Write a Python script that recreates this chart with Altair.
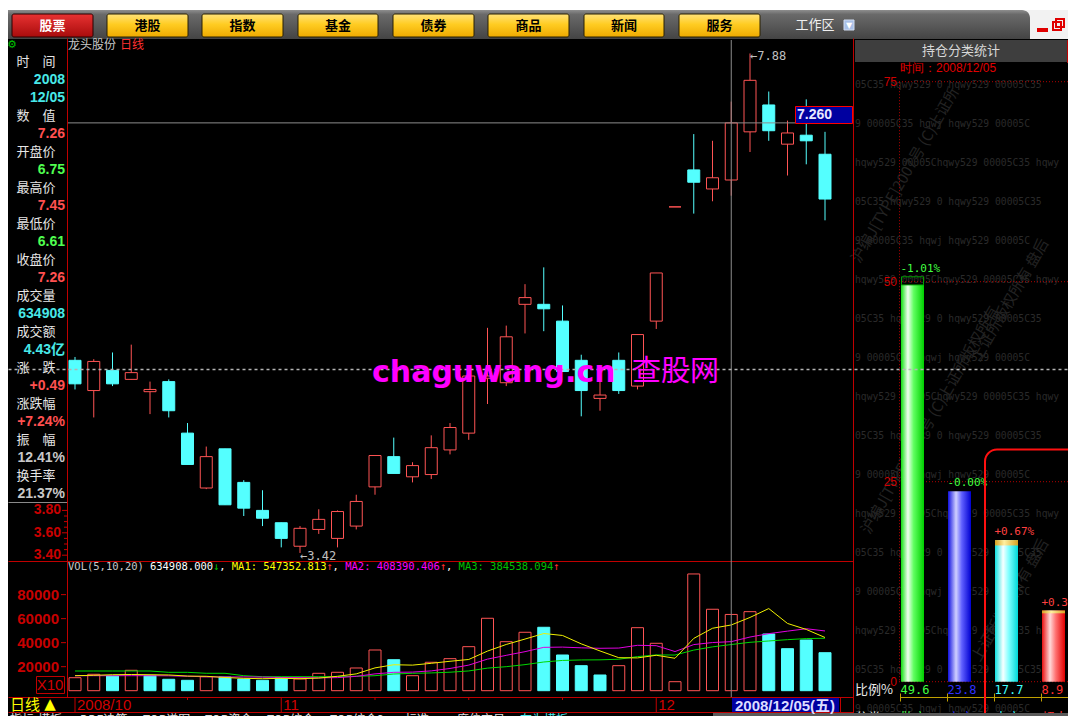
import altair as alt
import pandas as pd

# ================= values =================
stock_name = "龙头股份"
period_name = "日线"

bar_index = list(range(1, 42))
opens = [5.14, 4.87, 5.05, 4.97, 4.86, 4.95, 4.49, 4.00, 4.35, 4.05,
         3.80, 3.69, 3.48, 3.63, 3.55, 3.66, 4.01, 4.28, 4.10, 4.12,
         4.34, 4.49, 4.98, 4.94, 5.64, 5.64, 5.49, 5.14, 4.80, 5.14,
         4.91, 5.49, 6.51, 6.84, 6.67, 6.75, 7.18, 7.42, 7.07, 7.15, 6.98]
highs = [5.17, 5.15, 5.21, 5.28, 4.95, 4.97, 4.58, 4.37, 4.35, 4.07,
         3.98, 3.69, 3.66, 3.81, 3.80, 3.94, 4.29, 4.45, 4.23, 4.47,
         4.58, 5.00, 5.43, 5.45, 5.82, 5.97, 5.63, 5.19, 4.97, 5.21,
         5.37, 5.92, 6.51, 7.16, 7.10, 7.45, 7.88, 7.54, 7.28, 7.47, 7.18]
lows = [4.88, 4.63, 4.91, 4.97, 4.66, 4.63, 4.21, 3.99, 3.85, 3.75,
        3.66, 3.47, 3.42, 3.59, 3.47, 3.63, 3.94, 4.13, 4.05, 4.08,
        4.30, 4.43, 4.75, 4.91, 5.38, 5.40, 5.04, 4.64, 4.69, 4.84,
        4.88, 5.42, 6.51, 6.45, 6.56, 6.61, 7.00, 7.10, 6.79, 6.89, 6.39]
closes = [4.93, 5.13, 4.93, 5.03, 4.88, 4.69, 4.21, 4.28, 3.85, 3.82,
          3.73, 3.55, 3.64, 3.72, 3.79, 3.88, 4.29, 4.13, 4.20, 4.36,
          4.54, 5.00, 5.00, 5.35, 5.70, 5.60, 5.04, 4.87, 4.83, 4.87,
          5.37, 5.92, 6.51, 6.73, 6.77, 7.26, 7.64, 7.19, 7.17, 7.10, 6.58]

# volume in axis units (x10)
volumes = [10830, 13660, 12240, 16990, 12500, 9500, 8660, 11660, 11410, 9750,
           8660, 10830, 9750, 14490, 15330, 18910, 33900, 25820, 12500, 23660,
           26660, 36650, 60310, 40820, 48650, 52810, 29740, 20830, 13080, 20830,
           52480, 39480, 7500, 97210, 67810, 63491, 65810, 47230, 34990, 42230, 31650]
vol_rising = [1, 1, 0, 1, 0, 0, 0, 1, 0, 0,
              0, 0, 1, 1, 1, 1, 1, 0, 1, 1,
              1, 1, 1, 1, 1, 0, 0, 0, 0, 1,
              1, 1, 1, 1, 1, 1, 1, 0, 0, 0, 0]
ma5 = [12500, 12800, 13300, 13500, 13300, 13100, 12200, 12000, 11000, 10300,
       10000, 10300, 10000, 10500, 12000, 14000, 19000, 21600, 21300, 22800,
       24500, 26000, 33000, 38500, 43000, 47600, 46000, 39000, 33100, 27500,
       27300, 29500, 27000, 43550, 52000, 54735, 61000, 68400, 56000, 51000, 44300]
ma10 = [12500, 12500, 12500, 12500, 12500, 12400, 12000, 11600, 11400, 11500,
        11300, 11000, 10900, 10750, 10900, 11950, 14000, 15300, 15500, 16500,
        18500, 21300, 26300, 29450, 32500, 36100, 36300, 35700, 35320, 35500,
        37800, 37500, 32600, 38400, 40100, 40839, 44700, 47500, 49600, 51600, 49740]
ma20 = [16400, 16400, 16400, 16400, 16400, 15300, 15300, 14500, 14500, 12500,
        11660, 11660, 11660, 11660, 11660, 12000, 12500, 13900, 14500, 14800,
        15400, 16450, 18800, 20000, 21700, 23900, 25200, 25600, 25700, 26200,
        28400, 29800, 29700, 33800, 36500, 38454, 40300, 41400, 42500, 43400, 43680]

price_ticks = [3.40, 3.60, 3.80]
price_minor_ticks = [3.45, 3.50, 3.55, 3.65, 3.70, 3.75]
volume_ticks = [20000, 40000, 60000, 80000]
month_start_bars = [1, 12, 32]
month_labels = ["2008/10", "11", "12"]
week_tick_bars = [7, 17, 22, 27, 37]
cursor_bar = 36
cursor_price = 7.26
cursor_date = "2008/12/05(五)"
high_mark = [37, 7.88]
low_mark = [13, 3.42]

info_labels = ["时　间", "数　值", "开盘价", "最高价", "最低价", "收盘价",
               "成交量", "成交额", "涨　跌", "涨跌幅", "振　幅", "换手率"]
info_values = ["2008", "12/05", "7.26", "6.75", "7.45", "6.61", "7.26",
               "634908", "4.43亿", "+0.49", "+7.24%", "12.41%", "21.37%"]

vol_header = ["VOL(5,10,20) ", "634908.000", "↓", ", ", "MA1: ", "547352.813", "↑", ", ",
              "MA2: ", "408390.406", "↑", ", ", "MA3: ", "384538.094", "↑"]

holder_classes = ["散户", "中户", "大户", "超大"]
holder_share = [49.6, 23.8, 17.7, 8.9]
holder_change = [-1.01, -0.00, 0.67, 0.35]
holder_change_text = ["-1.01%", "-0.00%", "+0.67%", "+0.35%"]
holder_ticks = [0, 25, 50, 75]
holder_date = "时间：2008/12/05"

menu_items = ["股票", "港股", "指数", "基金", "债券", "商品", "新闻", "服务"]
tab_items = ["指标", "模板", "DDE决策", "TOP谱图", "TOP资金", "TOP综合", "TOP综合2", "标准", "度位交易", "存为模板"]

# ================= layout / styling =================
OFF = 8  # page margin
CJK = "Noto Sans CJK SC"
SANS = "Liberation Sans"
MONO = "DejaVu Sans Mono"
RED = "#ff5454"
CYAN = "#54ffff"
FRAME = "#c00000"
AXIS_RED = "#c80000"


def P(v):
    return v - OFF


def _shift(df, cols, extra=0.0):
    for c in cols:
        df[c] = df[c] - OFF + extra
    return df


def rect_layer(rows, stroke_width=1.0, radius=0, extra=0.0, fill_opacity=None):
    df = _shift(pd.DataFrame(rows, columns=["x", "x2", "y", "y2", "f", "s"]), ["x", "x2", "y", "y2"], extra)
    mk = {"strokeWidth": stroke_width}
    if radius:
        mk["cornerRadius"] = radius
    if fill_opacity is not None:
        mk["fillOpacity"] = fill_opacity
    return alt.Chart(df).mark_rect(**mk).encode(
        x=alt.X("x:Q", scale=None, axis=None), x2="x2:Q",
        y=alt.Y("y:Q", scale=None, axis=None), y2="y2:Q",
        fill=alt.Fill("f:N", scale=None, legend=None),
        stroke=alt.Stroke("s:N", scale=None, legend=None))


def gradient(stops, horizontal=False):
    return alt.LinearGradient(
        gradient="linear",
        stops=[alt.GradientStop(offset=o, color=c) for o, c in stops],
        x1=0, y1=0, x2=1 if horizontal else 0, y2=0 if horizontal else 1)


def grad_rect_layer(boxes, stops, horizontal=False, stroke=None, **extra_mk):
    df = _shift(pd.DataFrame(boxes, columns=["x", "x2", "y", "y2"]), ["x", "x2", "y", "y2"])
    mk = dict(extra_mk)
    mk["fill"] = gradient(stops, horizontal)
    if stroke:
        mk["stroke"] = stroke
        mk["strokeWidth"] = 1
    return alt.Chart(df).mark_rect(**mk).encode(
        x=alt.X("x:Q", scale=None, axis=None), x2="x2:Q",
        y=alt.Y("y:Q", scale=None, axis=None), y2="y2:Q")


def text_layer(rows, size, font=CJK, align="left", weight="normal", baseline="middle", angle=None):
    df = _shift(pd.DataFrame(rows, columns=["x", "y", "t", "c"]), ["x", "y"])
    mk = dict(fontSize=size, font=font, align=align, baseline=baseline, fontWeight=weight)
    if angle is not None:
        mk["angle"] = angle
    return alt.Chart(df).mark_text(**mk).encode(
        x=alt.X("x:Q", scale=None, axis=None),
        y=alt.Y("y:Q", scale=None, axis=None),
        text=alt.Text("t:N"),
        color=alt.Color("c:N", scale=None, legend=None))


def rule_layer(rows, width=1.0, dash=None):
    df = _shift(pd.DataFrame(rows, columns=["x", "y", "x2", "y2", "c"]), ["x", "y", "x2", "y2"], 0.5)
    mk = dict(strokeWidth=width)
    if dash:
        mk["strokeDash"] = dash
    return alt.Chart(df).mark_rule(**mk).encode(
        x=alt.X("x:Q", scale=None, axis=None), x2="x2:Q",
        y=alt.Y("y:Q", scale=None, axis=None), y2="y2:Q",
        color=alt.Color("c:N", scale=None, legend=None))


def sc(domain, rng):
    return alt.Scale(domain=domain, range=[P(rng[0]), P(rng[1])], nice=False, zero=False, padding=0)


X_BARS = sc([1, 41], [75, 825])
Y_PRICE = sc([3.375, 8.0], [558, 40])
Y_VOL = sc([0, 108000], [690.7, 561])
X_HOLD = sc([0, 3], [912.5, 1053.5])
Y_HOLD = sc([0, 75], [681.7, 81.7])

layers = []
add = layers.append

# ---------- window chrome / menu bar ----------
add(rect_layer([(0, 1076, 0, 10, "#ffffff", "transparent"),
                (1000, 1076, 10, 39, "#f2f2f2", "transparent")], stroke_width=0))
add(grad_rect_layer([(0, 1030, 10, 39)], [(0, "#8e8e8e"), (0.15, "#6a6a6a"), (1, "#444444")],
                    cornerRadiusTopRight=8))
add(rect_layer([(1037, 1048, 28, 32, "#e00000", "transparent")], stroke_width=0))
add(rect_layer([(1053, 1061, 22, 30, "transparent", "#e00000"),
                (1056, 1064, 19, 27, "transparent", "#e00000")], stroke_width=2))

btn_x = [(12, 93), (107, 188), (202, 283), (298, 378), (393, 474), (488, 569), (584, 664), (679, 760)]
add(grad_rect_layer([(btn_x[0][0], btn_x[0][1], 14, 37)],
                    [(0, "#e83232"), (1, "#a80c0c")], stroke="#2a0000", cornerRadius=2))
add(grad_rect_layer([(a, b, 14, 37) for a, b in btn_x[1:]],
                    [(0, "#ffe27a"), (0.45, "#ffcc22"), (1, "#eeaa00")], stroke="#2a2000", cornerRadius=2))
add(text_layer([((btn_x[0][0] + btn_x[0][1]) / 2, 25.5, menu_items[0], "#ffffff")] +
               [((a + b) / 2, 25.5, t, "#000000") for (a, b), t in zip(btn_x[1:], menu_items[1:])],
               13, CJK, "center", "bold"))
add(text_layer([(815, 24.5, "工作区", "#f0f0f0")], 13, CJK, "center"))
add(rect_layer([(844, 854, 20, 30, "#a8c0e8", "#d0dcf0")], stroke_width=1))
add(text_layer([(849, 25.5, "▼", "#ffffff")], 8, "DejaVu Sans", "center"))

# ---------- right panel: watermark texture ----------
wm_patterns = ["05C35  hqwy529 0      hqwy529 00005C35",
               "9 00005C35  hqwj      hqwy529 00005C",
               "hqwy529 00005Chqwy529 00005C35  hqwy"]
add(text_layer([(855, 85 + 39 * k, wm_patterns[k % 3], "#2a2a2a") for k in range(17)], 9.7, MONO))
add(text_layer([(905, 175, "沪编J[TYPE]2007号 (C)上证所", "#232323"),
                (930, 420, "沪编J[TYPE]2007号 (C)上证所版权所有", "#232323"),
                (1010, 300, "上证所版权所有 盘后", "#232323"),
                (1010, 600, "上证所版权所有 盘后", "#232323")], 15, CJK, "center", angle=300))

# ---------- right panel: header ----------
add(rect_layer([(855, 1067, 40, 62, "#3e3e3e", "transparent")], stroke_width=0))
add(rect_layer([(1067, 1080, 40, 62, "#e8e8e8", "#c00000")], stroke_width=1, extra=0.5))
add(text_layer([(961, 51, "持仓分类统计", "#d8d8d8")], 13, CJK, "center"))
add(text_layer([(1069, 51, "设", "#000000")], 12, CJK, "left"))
add(text_layer([(900, 68, holder_date, "#e00000")], 12, SANS))

# ---------- right panel: holder bars ----------
hdf = pd.DataFrame({"k": [0, 1, 2, 3], "cls": holder_classes, "v": holder_share,
                    "chg": holder_change, "lab": holder_change_text})
hdf["z"] = 0.0
hdf["top"] = [v + max(0.0, -c) for v, c in zip(holder_share, holder_change)]
hdf["lo"] = [v - max(0.0, c) for v, c in zip(holder_share, holder_change)]
hdf["vtxt"] = [f"{v:.1f}" for v in holder_share]
hdf["lc"] = ["#40ff40" if t.startswith("-") else "#ff4040" for t in holder_change_text]
hdf["cc"] = ["#40ff40", "#3030ff", "#40ffff", "#ff3030"]

hx = alt.X("k:Q", scale=X_HOLD, axis=None)
tick_df = pd.DataFrame({"v": holder_ticks, "t": [str(v) for v in holder_ticks]})
add(alt.Chart(tick_df).mark_rule(color="#b00000", strokeDash=[1, 2], strokeWidth=1).encode(
    x=alt.value(P(899)), x2=alt.value(P(1076)), y=alt.Y("v:Q", scale=Y_HOLD, axis=None)))
add(rule_layer([(899, 81.7, 899, 681.7, "#b00000")], dash=[1, 2]))
add(alt.Chart(tick_df).mark_text(font=SANS, fontSize=12, align="right", baseline="middle", color="#d00000").encode(
    x=alt.value(P(897)), y=alt.Y("v:Q", scale=Y_HOLD, axis=None), text="t:N"))

bar_stops = [
    [(0, "#10e010"), (0.3, "#f0fff0"), (0.55, "#60ff60"), (1, "#00d000")],
    [(0, "#1010e0"), (0.35, "#d0d0ff"), (0.6, "#6060ff"), (1, "#0000d0")],
    [(0, "#10e0e0"), (0.35, "#f8ffff"), (0.6, "#80ffff"), (1, "#00d8d8")],
    [(0, "#e81010"), (0.35, "#ffd8d8"), (0.6, "#ff7070"), (1, "#e00000")],
]
for k, stops in enumerate(bar_stops):
    add(alt.Chart(hdf.iloc[[k]]).mark_bar(size=23, fill=gradient(stops, True), orient="vertical").encode(
        x=hx, y=alt.Y("v:Q", scale=Y_HOLD, axis=None), y2="z:Q"))
add(alt.Chart(hdf[hdf.chg > 0]).mark_bar(size=23, orient="vertical",
                                         fill=gradient([(0, "#d8a020"), (0.4, "#fff0a0"), (1, "#d8a020")], True)).encode(
    x=hx, y=alt.Y("lo:Q", scale=Y_HOLD, axis=None), y2="v:Q"))
add(alt.Chart(hdf[hdf.chg < -0.005]).mark_bar(size=22, orient="vertical", fillOpacity=0, stroke="#00a000",
                                              strokeWidth=1).encode(
    x=hx, y=alt.Y("v:Q", scale=Y_HOLD, axis=None), y2="top:Q"))
add(alt.Chart(hdf).mark_text(font=MONO, fontSize=11, align="left", baseline="middle", dx=-12, dy=-8).encode(
    x=hx, y=alt.Y("top:Q", scale=Y_HOLD, axis=None), text="lab:N",
    color=alt.Color("lc:N", scale=None, legend=None)))
add(alt.Chart(hdf).mark_text(font=MONO, fontSize=12, align="left", baseline="middle", dx=-12).encode(
    x=hx, y=alt.value(P(690)), text="vtxt:N", color=alt.Color("cc:N", scale=None, legend=None)))
add(alt.Chart(hdf).mark_text(font=CJK, fontSize=13, align="left", baseline="middle", dx=-12).encode(
    x=hx, y=alt.value(P(718)), text="cls:N", color=alt.Color("cc:N", scale=None, legend=None)))
add(text_layer([(855, 690, "比例%", "#e8e8e8"), (855, 718, "分类", "#e8e8e8")], 13, CJK))
add(rule_layer([(900, 697, 1076, 697, "#c0a000")] +
               [(x, 693, x, 701, "#c0a000") for x in (900, 947, 994, 1041)]))
add(rect_layer([(985, 1100, 449.5, 760, "transparent", "#ff1010")], stroke_width=2, radius=12))

# ---------- main chart: title & price axis ----------
add(text_layer([(68, 45, stock_name, "#c8c8c8")], 12, CJK))
add(text_layer([(120, 45, period_name, "#ff3030")], 12, CJK))
add(text_layer([(12, 45, "⚙", "#00c000")], 11, "DejaVu Sans", "center"))

pt = pd.DataFrame({"p": price_ticks, "t": [f"{v:.2f}" for v in price_ticks]})
pm = pd.DataFrame({"p": price_minor_ticks})
add(alt.Chart(pt).mark_text(font=SANS, fontSize=14, fontWeight="bold", align="right", baseline="middle",
                            color=AXIS_RED).encode(x=alt.value(P(61)), y=alt.Y("p:Q", scale=Y_PRICE, axis=None),
                                                   text="t:N"))
add(alt.Chart(pt).mark_rule(color=AXIS_RED).encode(
    x=alt.value(P(62)), x2=alt.value(P(67)), y=alt.Y("p:Q", scale=Y_PRICE, axis=None)))
add(alt.Chart(pm).mark_rule(color=AXIS_RED).encode(
    x=alt.value(P(64)), x2=alt.value(P(67)), y=alt.Y("p:Q", scale=Y_PRICE, axis=None)))

# ---------- candles ----------
kdf = pd.DataFrame({"i": bar_index, "o": opens, "h": highs, "l": lows, "c": closes})
kdf["dir"] = ["up" if c >= o else "down" for o, c in zip(opens, closes)]
dir_stroke = alt.Scale(domain=["up", "down"], range=[RED, CYAN])
dir_fill = alt.Scale(domain=["up", "down"], range=["#000000", CYAN])
xb = alt.X("i:Q", scale=X_BARS, axis=None)
add(alt.Chart(kdf).mark_rule(strokeWidth=1).encode(
    x=xb, y=alt.Y("l:Q", scale=Y_PRICE, axis=None), y2="h:Q",
    color=alt.Color("dir:N", scale=dir_stroke, legend=None)))
add(alt.Chart(kdf).mark_bar(size=12, strokeWidth=1, orient="vertical").encode(
    x=xb, y=alt.Y("o:Q", scale=Y_PRICE, axis=None), y2="c:Q",
    fill=alt.Fill("dir:N", scale=dir_fill, legend=None),
    stroke=alt.Stroke("dir:N", scale=dir_stroke, legend=None)))

mk_df = pd.DataFrame({"i": [high_mark[0], low_mark[0]], "p": [high_mark[1], low_mark[1]],
                      "t": [f"←{high_mark[1]:.2f}", f"←{low_mark[1]:.2f}"]})
add(alt.Chart(mk_df).mark_text(font=MONO, fontSize=12, align="left", baseline="middle", color="#c0c0c0",
                               dy=3).encode(x=xb, y=alt.Y("p:Q", scale=Y_PRICE, axis=None), text="t:N"))

# ---------- volume ----------
vdf = pd.DataFrame({"i": bar_index, "v": volumes, "z": 0,
                    "dir": ["up" if r else "down" for r in vol_rising]})
add(alt.Chart(vdf).mark_bar(size=12, strokeWidth=1, orient="vertical").encode(
    x=xb, y=alt.Y("v:Q", scale=Y_VOL, axis=None), y2="z:Q",
    fill=alt.Fill("dir:N", scale=dir_fill, legend=None),
    stroke=alt.Stroke("dir:N", scale=dir_stroke, legend=None)))
for vals, col in [(ma20, "#00d800"), (ma10, "#e000e0"), (ma5, "#f0f000")]:
    mdf = pd.DataFrame({"i": bar_index, "m": vals})
    add(alt.Chart(mdf).mark_line(strokeWidth=1, color=col).encode(
        x=xb, y=alt.Y("m:Q", scale=Y_VOL, axis=None)))

hdr_colors = ["#c8c8c8", "#ffffff", "#00c000", "#ffffff", "#ffff00", "#ffff00", "#ff3030", "#ffffff",
              "#ff00ff", "#ff00ff", "#ff3030", "#ffffff", "#00c000", "#00c000", "#ff3030"]
rows, xpos = [], 68.0
for seg, col in zip(vol_header, hdr_colors):
    rows.append((xpos, 567, seg, col))
    xpos += 6.3 * len(seg)
add(text_layer(rows, 10.5, MONO))

vt = pd.DataFrame({"v": volume_ticks, "t": [str(v) for v in volume_ticks]})
add(alt.Chart(vt).mark_text(font=SANS, fontSize=15, fontWeight="bold", align="right", baseline="middle",
                            color=AXIS_RED).encode(x=alt.value(P(59)), y=alt.Y("v:Q", scale=Y_VOL, axis=None),
                                                   text="t:N"))
add(alt.Chart(vt).mark_rule(color=AXIS_RED).encode(
    x=alt.value(P(61)), x2=alt.value(P(66)), y=alt.Y("v:Q", scale=Y_VOL, axis=None)))
add(rect_layer([(36, 64, 676, 693, "transparent", FRAME)], stroke_width=1, extra=0.5))
add(text_layer([(50, 685, "X10", "#d00000")], 15, SANS, "center"))

# ---------- left info panel ----------
val_rows = [1, 2, 4, 6, 8, 10, 12, 14, 16, 18, 20, 22, 24]
val_colors = ["#48e8e8", "#48e8e8", "#ff5050", "#50ff50", "#ff5050", "#50ff50", "#ff5050",
              "#48e8e8", "#48e8e8", "#ff5050", "#ff5050", "#c8c8c8", "#c8c8c8"]
lab_rows = [0, 3, 5, 7, 9, 11, 13, 15, 17, 19, 21, 23]


def row_y(k):
    return 61.5 + 18.0 * k


add(text_layer([(16.5, row_y(k), t, "#e6e6e6") for k, t in zip(lab_rows, info_labels)], 13, CJK))
add(text_layer([(65, row_y(k), t, c) for k, t, c in zip(val_rows, info_values, val_colors)], 14,
               SANS + ", " + CJK, "right", "bold"))
add(rule_layer([(8, 502, 67, 502, "#8a8a8a")]))

# ---------- frames ----------
add(rule_layer([(67, 38, 67, 697, FRAME), (853, 38, 853, 724, FRAME),
                (8, 561, 853, 561, FRAME), (8, 697, 853, 697, FRAME), (8, 712, 853, 712, FRAME),
                (840, 697, 840, 712, FRAME)]))

# ---------- date row ----------
add(text_layer([(10, 705, "日线", "#ffff00")], 15, CJK))
add(text_layer([(50, 704, "▲", "#ffff00")], 15, "DejaVu Sans", "center"))
mdf2 = pd.DataFrame({"i": month_start_bars, "t": month_labels})
add(alt.Chart(mdf2).mark_rule(color=FRAME).encode(x=xb, y=alt.value(P(697)), y2=alt.value(P(712))))
add(alt.Chart(mdf2).mark_text(font=SANS, fontSize=15, align="left", baseline="middle", color="#d00000",
                              dx=2).encode(x=xb, y=alt.value(P(705)), text="t:N"))
wdf = pd.DataFrame({"i": week_tick_bars})
add(alt.Chart(wdf).mark_rule(color=FRAME).encode(x=xb, y=alt.value(P(697)), y2=alt.value(P(700))))
add(rect_layer([(713, 1076, 713, 724, "#5a5a5a", "transparent")], stroke_width=0))
tab_x = [10, 38, 80, 143, 205, 267, 330, 405, 457, 520]
add(text_layer([(x, 720, t, "#48e8e8" if t == "存为模板" else "#e0e0e0") for x, t in zip(tab_x, tab_items)],
               12, CJK))

# ---------- cursor ----------
cdf = pd.DataFrame({"i": [cursor_bar], "p": [cursor_price]})
add(alt.Chart(cdf).mark_rule(color="#8c8c8c", strokeWidth=1).encode(
    x=xb, y=alt.value(P(40)), y2=alt.value(P(697))))
add(alt.Chart(cdf).mark_rule(color="#8c8c8c", strokeWidth=1).encode(
    y=alt.Y("p:Q", scale=Y_PRICE, axis=None), x=alt.value(P(68)), x2=alt.value(P(795))))
add(rect_layer([(732, 839, 698, 712, "#0000a0", "transparent")], stroke_width=0))
add(text_layer([(735, 705.5, cursor_date, "#dcdcff")], 15, SANS + ", " + CJK, "left", "bold"))
add(rect_layer([(795, 852, 106, 123, "#0000a0", "#ff0000")], stroke_width=1, extra=0.5))
add(text_layer([(797, 115, f"{cursor_price:.3f}", "#e8e8ff")], 14, SANS, "left", "bold"))

# ---------- mouse line & site watermark ----------
add(rule_layer([(8, 369, 1076, 369, "#b4b4b4")], width=1.5, dash=[3, 3]))
add(text_layer([(372, 382, "chaguwang.cn", "#ff00ff")], 30, "DejaVu Sans", "left", "bold", "alphabetic"))
add(text_layer([(632, 381, "查股网", "#ff00ff")], 29, CJK, "left", "normal", "alphabetic"))

chart = alt.layer(*layers).resolve_scale(
    x="independent", y="independent", color="independent", fill="independent", stroke="independent"
).properties(
    width=1060, height=708, padding=0, background="#000000",
    autosize=alt.AutoSizeParams(type="none", contains="padding")
).configure_view(strokeWidth=0)

chart.save("out.html", embed_options={"renderer": "svg", "actions": False})
